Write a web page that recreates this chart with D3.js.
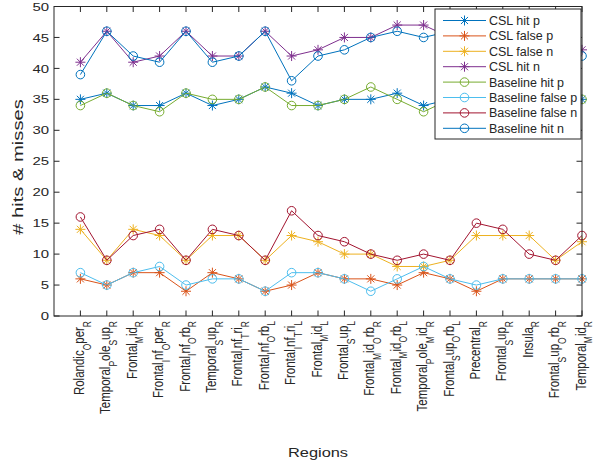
<!DOCTYPE html>
<html>
<head>
<meta charset="utf-8">
<script src="https://cdn.jsdelivr.net/npm/d3@7"></script>
<style>
  body { margin: 0; background: #ffffff; }
  text { font-family: "Liberation Sans", Arial, sans-serif; fill: #262626; }
</style>
</head>
<body>
<div id="chart"></div>
<script>
// region names, MATLAB TeX style (the char after _ is a subscript)
var regions = ["Rolandic_Oper_R", "Temporal_Pole_Sup_R", "Frontal_Mid_R", "Frontal_Inf_Oper_R",
  "Frontal_Inf_Orb_R", "Temporal_Sup_R", "Frontal_Inf_Tri_R", "Frontal_Inf_Orb_L",
  "Frontal_Inf_Tri_L", "Frontal_Mid_L", "Frontal_Sup_L", "Frontal_Mid_Orb_R",
  "Frontal_Mid_Orb_L", "Temporal_Pole_Mid_R", "Frontal_Sup_Orb_L", "Precentral_R",
  "Frontal_Sup_R", "Insula_R", "Frontal_Sup_Orb_R", "Temporal_Mid_R"];

var csl_hit_p   = [35,36,34,34,36,34,35,37,36,34,35,35,36,34,35,36,35,36,35,35];
var csl_false_p = [6,5,7,7,4,7,6,4,5,7,6,6,5,7,6,4,6,6,6,6];
var csl_false_n = [14,9,14,13,9,13,13,9,13,12,10,10,8,8,9,13,13,13,9,12];
var csl_hit_n   = [41,46,41,42,46,42,42,46,42,43,45,45,47,47,45,46,45,44,45,43];
var base_hit_p   = [34,36,34,33,36,35,35,37,34,34,35,37,35,33,35,36,35,36,35,35];
var base_false_p = [7,5,7,8,5,6,6,4,7,7,6,4,6,8,6,5,6,6,6,6];
var base_false_n = [16,9,13,14,9,14,13,9,17,13,12,10,9,10,9,15,14,10,9,13];
var base_hit_n   = [39,46,42,41,46,41,42,46,38,42,43,45,46,45,46,44,43,44,44,42];

var y_ticks = [0,5,10,15,20,25,30,35,40,45,50];

var series = [
  {name: "CSL hit p", values: csl_hit_p, color: "#0072BD", marker: "star"},
  {name: "CSL false p", values: csl_false_p, color: "#D95319", marker: "star"},
  {name: "CSL false n", values: csl_false_n, color: "#EDB120", marker: "star"},
  {name: "CSL hit n", values: csl_hit_n, color: "#7E2F8E", marker: "star"},
  {name: "Baseline hit p", values: base_hit_p, color: "#77AC30", marker: "circle"},
  {name: "Baseline false p", values: base_false_p, color: "#4DBEEE", marker: "circle"},
  {name: "Baseline false n", values: base_false_n, color: "#A2142F", marker: "circle"},
  {name: "Baseline hit n", values: base_hit_n, color: "#0072BD", marker: "circle"}
];

var W = 597, H = 464;
var axisColor = "#262626";
var sx = 1.3; // text in the picture is stretched sideways

const svg = d3.select("#chart").append("svg")
  .attr("width", W).attr("height", H);

// scales
const x = d3.scaleLinear().domain([0, 20]).range([54, 582]);
const y = d3.scaleLinear().domain([0, 50]).range([316, 6.5]);

// markers
function drawMarker(g, type, cx, cy, color) {
  if (type === "circle") {
    g.append("circle").attr("cx", cx).attr("cy", cy).attr("r", 4.3)
      .attr("fill", "none").attr("stroke", color).attr("stroke-width", 1);
  } else {
    var r = 5, d = r * 0.7071;
    var p = "M" + (cx - r) + "," + cy + "H" + (cx + r) +
      "M" + cx + "," + (cy - r) + "V" + (cy + r) +
      "M" + (cx - d) + "," + (cy - d) + "L" + (cx + d) + "," + (cy + d) +
      "M" + (cx - d) + "," + (cy + d) + "L" + (cx + d) + "," + (cy - d);
    g.append("path").attr("d", p).attr("fill", "none")
      .attr("stroke", color).attr("stroke-width", 1);
  }
}

// the lines
var line = d3.line()
  .x(function(d, i) { return x(i + 1); })
  .y(function(d) { return y(d); });

var plot = svg.append("g");
series.forEach(function(s) {
  var g = plot.append("g");
  g.append("path").attr("d", line(s.values))
    .attr("fill", "none").attr("stroke", s.color).attr("stroke-width", 1);
  s.values.forEach(function(v, i) {
    drawMarker(g, s.marker, x(i + 1), y(v), s.color);
  });
});

// axes box with ticks on all four sides
var ax = svg.append("g");
ax.append("rect").attr("x", x(0)).attr("y", y(50))
  .attr("width", x(20) - x(0)).attr("height", y(0) - y(50))
  .attr("fill", "none").attr("stroke", axisColor).attr("stroke-width", 1);

var tl = 5.5;
y_ticks.forEach(function(t) {
  ax.append("line").attr("x1", x(0)).attr("x2", x(0) + tl)
    .attr("y1", y(t)).attr("y2", y(t)).attr("stroke", axisColor);
  ax.append("line").attr("x1", x(20)).attr("x2", x(20) - tl)
    .attr("y1", y(t)).attr("y2", y(t)).attr("stroke", axisColor);
  ax.append("text")
    .attr("transform", `translate(${x(0) - 5},${y(t) + 4.1}) scale(${sx},1)`)
    .attr("text-anchor", "end")
    .style("font-size", "11.5px")
    .text(t);
});

regions.forEach(function(name, i) {
  var xp = x(i + 1);
  ax.append("line").attr("x1", xp).attr("x2", xp)
    .attr("y1", y(0)).attr("y2", y(0) - tl).attr("stroke", axisColor);
  ax.append("line").attr("x1", xp).attr("x2", xp)
    .attr("y1", y(50)).attr("y2", y(50) + tl).attr("stroke", axisColor);

  // tick label with subscripts
  var t = ax.append("text")
    .attr("transform", `translate(${xp + 3.6},321) scale(${sx},1) rotate(-90)`)
    .attr("text-anchor", "end")
    .style("font-size", "11.5px");
  var parts = name.split("_");
  var low = false;
  parts.forEach(function(p, k) {
    if (k === 0) {
      t.append("tspan").text(p);
      return;
    }
    t.append("tspan").attr("dy", low ? 0 : 5).style("font-size", "8.5px").text(p[0]);
    low = true;
    if (p.length > 1) {
      t.append("tspan").attr("dy", -5).text(p.slice(1));
      low = false;
    }
  });
});

// axis labels
svg.append("text")
  .attr("transform", `translate(318,457) scale(${sx},1)`)
  .attr("text-anchor", "middle")
  .style("font-size", "12.6px")
  .text("Regions");

svg.append("text")
  .attr("transform", "translate(23,167) rotate(-90) scale(1.6,1.15)")
  .attr("text-anchor", "middle")
  .style("font-size", "12.6px")
  .text("# hits & misses");

// legend
var leg = svg.append("g");
leg.append("rect").attr("x", 435).attr("y", 9).attr("width", 146).attr("height", 130)
  .attr("fill", "#ffffff").attr("stroke", axisColor).attr("stroke-width", 1);
series.forEach(function(s, i) {
  var ly = 20.5 + i * 15.4;
  leg.append("line").attr("x1", 443).attr("x2", 486).attr("y1", ly).attr("y2", ly)
    .attr("stroke", s.color).attr("stroke-width", 1);
  drawMarker(leg, s.marker, 464.5, ly, s.color);
  leg.append("text").attr("x", 489).attr("y", ly + 4.5)
    .style("font-size", "12.5px")
    .text(s.name);
});
</script>
</body>
</html>
